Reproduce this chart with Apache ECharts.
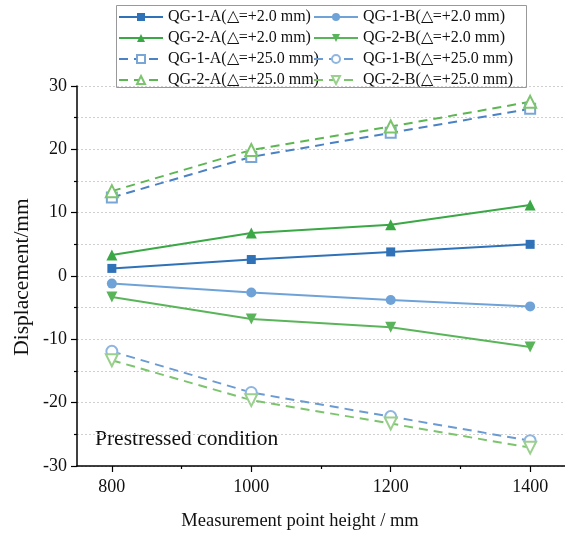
<!DOCTYPE html>
<html><head><meta charset="utf-8">
<script src="https://cdn.jsdelivr.net/npm/echarts@6/dist/echarts.min.js"></script>
<style>html,body{margin:0;padding:0;background:#fff}#c{width:565px;height:536px}</style>
</head><body><div id="c"></div>
<script>
const heights = [800, 1000, 1200, 1400];
const xMajorTicks = [800, 1000, 1200, 1400];
const xMinorTicks = [900, 1100, 1300];
const qg1A_2 = [1.2, 2.6, 3.8, 5.0];
const qg1B_2 = [-1.2, -2.6, -3.8, -4.8];
const qg2A_2 = [3.3, 6.8, 8.1, 11.2];
const qg2B_2 = [-3.3, -6.8, -8.1, -11.2];
const qg1A_25 = [12.4, 18.8, 22.6, 26.4];
const qg1B_25 = [-11.9, -18.4, -22.2, -26.0];
const qg2A_25 = [13.4, 19.9, 23.6, 27.5];
const qg2B_25 = [-13.3, -19.6, -23.3, -27.1];

const F = 'Liberation Serif, Times New Roman, serif';
const pts = arr => heights.map((h, i) => [h, arr[i]]);

function ser(name, data, color, symbol, size, dashed, rot, lineColor) {
  return {
    name, type: 'line', data: pts(data), symbol, symbolSize: size, symbolRotate: rot || 0,
    lineStyle: { color: lineColor || color, width: 2, type: dashed ? [9, 6] : 'solid' },
    itemStyle: { color: color, borderColor: color, borderWidth: dashed ? 1.2 : 0 },
    emphasis: { disabled: true }, z: dashed ? 2 : 3
  };
}

const series = [
  ser('QG-1-A(△=+2.0 mm)', qg1A_2, '#2f72b8', 'rect', 9, false),
  ser('QG-1-B(△=+2.0 mm)', qg1B_2, '#6fa3d8', 'circle', 10, false),
  ser('QG-2-A(△=+2.0 mm)', qg2A_2, '#3aa845', 'triangle', 11, false),
  ser('QG-2-B(△=+2.0 mm)', qg2B_2, '#5ab55a', 'triangle', 11, false, 180),
  ser('QG-1-A(△=+25.0 mm)', qg1A_25, '#7aa6d6', 'emptyRect', 10, true, 0, '#4a82c4'),
  ser('QG-1-B(△=+25.0 mm)', qg1B_25, '#8fb6e0', 'emptyCircle', 11, true, 0, '#6a9bd3'),
  ser('QG-2-A(△=+25.0 mm)', qg2A_25, '#7cc46e', 'emptyTriangle', 12, true, 0, '#5cb652'),
  ser('QG-2-B(△=+25.0 mm)', qg2B_25, '#9ad08e', 'emptyTriangle', 12, true, 180, '#7cc46e')
];

const legendCommon = {
  orient: 'vertical', itemWidth: 44, itemHeight: 10, itemGap: 5,
  textStyle: { fontFamily: F, fontSize: 16, color: '#111' }, selectedMode: false, padding: 0
};

const chart = echarts.init(document.getElementById('c'), null, { renderer: 'canvas' });
chart.setOption({
  animation: false,
  backgroundColor: '#fff',
  grid: { left: 77, top: 86, width: 497, height: 380 },
  xAxis: [{
    type: 'value', min: 750, max: 1450,
    axisLine: { onZero: false, lineStyle: { color: '#000', width: 1.5 } },
    axisTick: { show: true, length: 6, customValues: xMajorTicks, lineStyle: { color: '#000', width: 1.2 } },
    axisLabel: { customValues: xMajorTicks, formatter: v => String(v), fontFamily: F, fontSize: 18, color: '#111', margin: 12 },
    splitLine: { show: false }
  }, {
    type: 'value', min: 750, max: 1450, position: 'bottom',
    axisLine: { show: false, onZero: false },
    axisTick: { show: true, length: 3, customValues: xMinorTicks, lineStyle: { color: '#000', width: 1.2 } },
    axisLabel: { show: false },
    splitLine: { show: false }
  }],
  yAxis: {
    type: 'value', min: -30, max: 30, interval: 10,
    axisLine: { show: true, onZero: false, lineStyle: { color: '#000', width: 1.5 } },
    axisTick: { show: true, length: 6, lineStyle: { color: '#000', width: 1.2 } },
    minorTick: { show: true, splitNumber: 2, length: 3, lineStyle: { color: '#000', width: 1.2 } },
    axisLabel: { fontFamily: F, fontSize: 18, color: '#111', margin: 10 },
    splitLine: { show: true, lineStyle: { color: '#d0d0d0', type: [2, 2], width: 1 } },
    minorSplitLine: { show: true, lineStyle: { color: '#d0d0d0', type: [2, 2], width: 1 } }
  },
  legend: [
    Object.assign({ left: 118, top: 9, data: [series[0].name, series[2].name, series[4].name, series[6].name] }, legendCommon),
    Object.assign({ left: 313, top: 9, data: [series[1].name, series[3].name, series[5].name, series[7].name] }, legendCommon)
  ],
  graphic: [
    { type: 'rect', shape: { x: 116.5, y: 5.5, width: 410, height: 82 }, style: { fill: 'rgba(0,0,0,0)', stroke: '#999', lineWidth: 1 }, z: 1 },
    { type: 'text', x: 95, y: 439, style: { text: 'Prestressed condition', font: '21.5px ' + F, fill: '#111', verticalAlign: 'middle' } },
    { type: 'text', x: 300, y: 521, style: { text: 'Measurement point height / mm', font: '18.5px ' + F, fill: '#111', align: 'center', verticalAlign: 'middle' } },
    { type: 'text', x: 22, y: 277, rotation: Math.PI / 2, style: { text: 'Displacement/mm', font: '21.5px ' + F, fill: '#111', align: 'center', verticalAlign: 'middle' } }
  ],
  series
});
</script></body></html>
